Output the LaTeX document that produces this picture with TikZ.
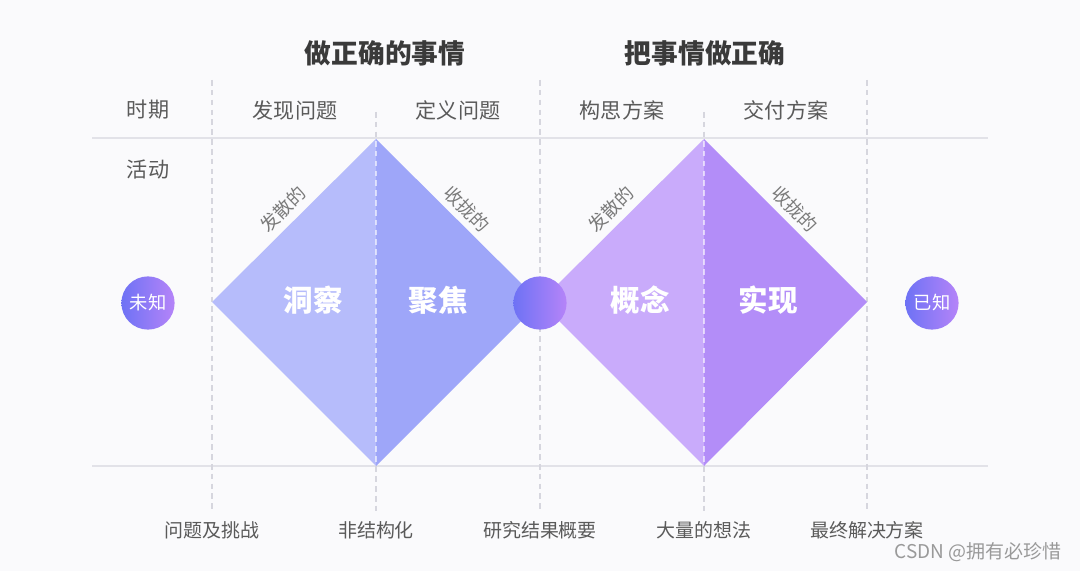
\documentclass[tikz,border=0pt]{standalone}
\usepackage{fontspec}
\setmainfont{Noto Sans CJK SC}
\definecolor{sfondo}{HTML}{FAFAFC}
\definecolor{griglia}{HTML}{E2E2E8}
\definecolor{tratteggio}{HTML}{D6D6DE}
\definecolor{testoscuro}{HTML}{3A3A3A}
\definecolor{testogrigio}{HTML}{5A5A5A}
\definecolor{testochiaro}{HTML}{7A7A7A}
\definecolor{bluchiaro}{HTML}{B6BCFB}
\definecolor{bluscuro}{HTML}{9EA6F9}
\definecolor{lillachiaro}{HTML}{C9ABFB}
\definecolor{lillascuro}{HTML}{B38DF8}
\definecolor{gradsx}{HTML}{6E72F5}
\definecolor{graddx}{HTML}{B584F8}
\tikzset{
  titolo/.style={font=\bfseries\fontsize{19}{19}\selectfont, text=testoscuro},
  intestazione/.style={font=\fontsize{15}{15}\selectfont, text=testogrigio},
  etichetta/.style={font=\fontsize{13.5}{13.5}\selectfont, text=testogrigio},
  lato/.style={font=\fontsize{13}{13}\selectfont, text=testochiaro, inner sep=1pt},
  fase/.style={font=\bfseries\fontsize{21}{21}\selectfont, text=white},
  pallino/.style={circle, minimum size=1.33cm, inner sep=0pt, left color=gradsx, right color=graddx,
    font=\fontsize{13}{13}\selectfont, text=white},
}
\begin{document}
\begin{tikzpicture}[x=0.025cm, y=-0.025cm]
    % Sfondo e dimensioni
    \fill[sfondo] (0,0) rectangle (1080,571);
    \useasboundingbox (0,0) rectangle (1080,571);

    % Righe orizzontali della tabella
    \draw[griglia, line width=0.8pt] (92,138) -- (988,138);
    \draw[griglia, line width=0.8pt] (92,466) -- (988,466);

    % Linee tratteggiate verticali
    \foreach \x in {212,540,867}
        \draw[tratteggio, line width=0.8pt, dash pattern=on 4pt off 3pt] (\x,80) -- (\x,512);
    \foreach \x in {376,704}
        \draw[tratteggio, line width=0.8pt, dash pattern=on 4pt off 3pt] (\x,112) -- (\x,512);

    % Primo rombo: scoprire e definire
    \fill[bluchiaro] (212,302) -- (376,139) -- (376,466) -- cycle;
    \fill[bluscuro] (376,139) -- (540,302) -- (376,466) -- cycle;

    % Secondo rombo: ideare e consegnare
    \fill[lillachiaro] (540,302) -- (704,139) -- (704,466) -- cycle;
    \fill[lillascuro] (704,139) -- (867,302) -- (704,466) -- cycle;

    % Tratteggio chiaro sopra i rombi
    \foreach \x in {376,704}
        \draw[white, opacity=0.6, line width=0.8pt, dash pattern=on 4pt off 3pt] (\x,141) -- (\x,464);

    % Titoli
    \node[titolo] (giusto) at (385,53) {做正确的事情};
    \node[titolo] (bene) at (705,53) {把事情做正确};

    % Intestazioni delle righe
    \node[intestazione] (periodo) at (148,110) {时期};
    \node[intestazione] (attivita) at (148,170) {活动};

    % Intestazioni delle colonne
    \node[intestazione] (scopri) at (295,110) {发现问题};
    \node[intestazione] (definisci) at (458,110) {定义问题};
    \node[intestazione] (idea) at (622,110) {构思方案};
    \node[intestazione] (consegna) at (786,110) {交付方案};

    % Etichette lungo i lati
    \node[lato, rotate=45] (div1) at (283,209) {发散的};
    \node[lato, rotate=-45] (conv1) at (467,209) {收拢的};
    \node[lato, rotate=45] (div2) at (611,209) {发散的};
    \node[lato, rotate=-45] (conv2) at (795,209) {收拢的};

    % Fasi dentro i rombi
    \node[fase] (intuito) at (313,300) {洞察};
    \node[fase] (fuoco) at (438,300) {聚焦};
    \node[fase] (concetto) at (640,300) {概念};
    \node[fase] (realizza) at (768,300) {实现};

    % Cerchi con sfumatura
    \node[pallino] (ignoto) at (148,303) {未知};
    \node[pallino] (centro) at (540,303) {};
    \node[pallino] (noto) at (932,303) {已知};

    % Risultati in basso
    \node[etichetta] (sfide) at (212,530) {问题及挑战};
    \node[etichetta] (grezzo) at (376,530) {非结构化};
    \node[etichetta] (sintesi) at (540,530) {研究结果概要};
    \node[etichetta] (idee) at (704,530) {大量的想法};
    \node[etichetta] (soluzione) at (867,530) {最终解决方案};

    % Filigrana
    \node[font=\fontsize{13.5}{13.5}\selectfont, text=black!40] (firma) at (978,552) {CSDN @拥有必珍惜};
\end{tikzpicture}
\end{document}
